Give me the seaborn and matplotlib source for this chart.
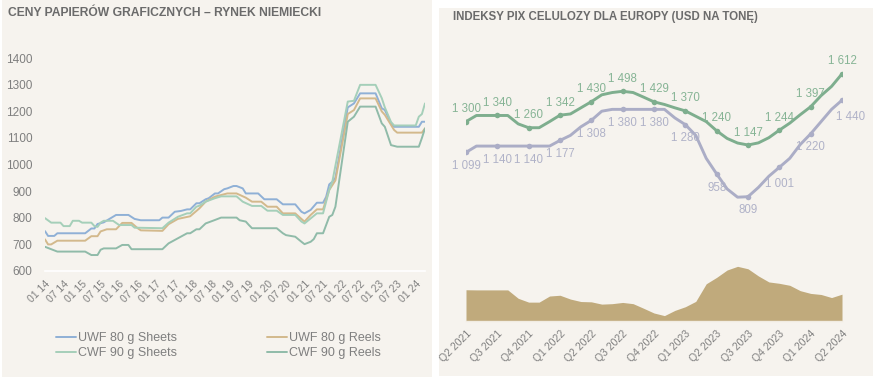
import matplotlib
matplotlib.use("Agg")
import matplotlib.pyplot as plt
import matplotlib.transforms as mtransforms
import seaborn as sns
import pandas as pd
import numpy as np

sns.set_theme(style="white")
plt.rcParams['font.family'] = ['Liberation Sans', 'DejaVu Sans']

# ---------------- LEFT PANEL DATA (month index from 01 2014) ----------------
left_title = "CENY PAPIERÓW GRAFICZNYCH – RYNEK NIEMIECKI"
left_start = "2014-01-01"
left_n_months = 124

uwf_sheets_m = [0, 1, 3, 4, 13, 15, 16, 17, 19, 23, 27, 29, 31, 37, 38, 40, 42, 44, 46, 47, 49, 50, 52, 53,
                55, 56, 58, 59, 61, 62, 64, 65, 69, 71, 75, 77, 81, 83, 84, 86, 88, 90, 91, 92, 93, 94, 98,
                100, 102, 107, 109, 110, 112, 113, 121, 122, 123]
uwf_sheets_v = [749, 731, 731, 741, 741, 759, 759, 776, 782, 810, 810, 795, 790, 790, 800, 800, 822, 825, 831,
                831, 854, 854, 869, 873, 891, 891, 907, 910, 919, 919, 910, 891, 891, 869, 869, 850, 850, 822,
                816, 829, 856, 856, 878, 925, 935, 950, 1215, 1230, 1268, 1268, 1212, 1205, 1155, 1142, 1142,
                1161, 1161]

uwf_reels_m = [0, 1, 2, 4, 13, 15, 17, 18, 20, 23, 25, 28, 30, 31, 38, 40, 43, 47, 50, 52, 55, 59, 62, 65,
               67, 70, 72, 75, 77, 81, 83, 84, 86, 88, 90, 92, 94, 98, 100, 102, 107, 109, 110, 113, 114,
               122, 123]
uwf_reels_v = [718, 699, 699, 713, 713, 730, 730, 748, 756, 756, 780, 780, 760, 752, 750, 775, 795, 805, 835,
               860, 879, 891, 891, 875, 860, 860, 841, 841, 816, 816, 795, 785, 810, 831, 831, 904, 940, 1190,
               1205, 1249, 1249, 1200, 1187, 1130, 1120, 1120, 1136]

cwf_sheets_m = [0, 2, 5, 6, 8, 9, 11, 12, 15, 16, 17, 18, 19, 22, 24, 28, 29, 38, 40, 43, 46, 47, 49, 50,
                52, 55, 57, 62, 64, 67, 70, 72, 75, 77, 81, 83, 84, 86, 88, 90, 92, 93, 98, 100, 102, 107,
                109, 110, 112, 113, 120, 121, 122, 123]
cwf_sheets_v = [798, 781, 781, 768, 768, 788, 788, 781, 781, 768, 765, 781, 788, 788, 772, 772, 762, 760, 781,
                803, 816, 816, 841, 845, 860, 873, 880, 880, 860, 844, 844, 826, 826, 810, 810, 785, 778, 797,
                816, 816, 904, 935, 1237, 1240, 1300, 1300, 1250, 1215, 1160, 1147, 1147, 1180, 1190, 1230]

cwf_reels_m = [0, 2, 4, 13, 15, 17, 18, 19, 23, 25, 27, 28, 38, 40, 43, 46, 47, 49, 50, 52, 55, 57, 62, 63,
               65, 66, 67, 75, 77, 78, 81, 83, 84, 86, 87, 88, 90, 92, 93, 94, 98, 100, 102, 107, 109, 110,
               112, 114, 121, 122, 123]
cwf_reels_v = [690, 681, 672, 672, 659, 659, 679, 684, 684, 697, 697, 681, 681, 703, 722, 741, 741, 756, 756,
               778, 791, 800, 800, 790, 785, 772, 760, 760, 741, 734, 728, 709, 700, 709, 719, 741, 741, 803,
               810, 841, 1161, 1180, 1218, 1218, 1155, 1142, 1073, 1067, 1067, 1100, 1136]

left_series = ["UWF 80 g Sheets", "UWF 80 g Reels", "CWF 90 g Sheets", "CWF 90 g Reels"]
left_colors = ["#8fb0d6", "#d3b98c", "#a5cfb9", "#90bba9"]

# ---------------- RIGHT PANEL DATA (monthly from Q2 2021) ----------------
right_title = "INDEKSY PIX CELULOZY DLA EUROPY (USD NA TONĘ)"
right_start = "2021-04-01"
pix_green = [1300, 1340, 1340, 1340, 1340, 1285, 1260, 1260, 1300, 1342, 1350, 1390, 1430, 1475, 1490, 1498,
             1490, 1460, 1429, 1412, 1390, 1370, 1335, 1300, 1240, 1190, 1160, 1147, 1161, 1195, 1244, 1290,
             1345, 1397, 1470, 1530, 1612]
pix_purple = [1099, 1140, 1140, 1140, 1140, 1140, 1140, 1140, 1140, 1177, 1210, 1266, 1308, 1368, 1380, 1380,
              1380, 1380, 1380, 1380, 1324, 1280, 1210, 1060, 958, 860, 806, 809, 870, 943, 1001, 1060, 1150,
              1220, 1300, 1380, 1440]

green_c = "#7eae8e"
purple_c = "#abadc6"
area_c = "#c0aa7c"
green_lbl_c = "#86b495"
purple_lbl_c = "#b0b2c8"

BG = "#f6f3ee"
TXT = "#7f7f7f"

W, H = 879, 379
fig = plt.figure(figsize=(W / 100, H / 100), dpi=100)
fig.patch.set_facecolor("white")

def fx(px):
    return px / W

def fy(py):
    return 1 - py / H

# panel backgrounds (as background axes)
for (x0, y0, x1, y1) in [(2, 0, 432, 377), (439, 8, 873, 376)]:
    bg = fig.add_axes([fx(x0), fy(y1), fx(x1) - fx(x0), fy(y0) - fy(y1)], zorder=-5)
    bg.set_facecolor(BG)
    bg.set_xticks([])
    bg.set_yticks([])
    for s in bg.spines.values():
        s.set_visible(False)

# ---------------- LEFT AXES ----------------
axL = fig.add_axes([fx(45), fy(270.7), fx(425) - fx(45), fy(58.3) - fy(270.7)], zorder=1)
axL.set_facecolor("none")
rows = []
for name, ms, vs in [(left_series[0], uwf_sheets_m, uwf_sheets_v),
                     (left_series[1], uwf_reels_m, uwf_reels_v),
                     (left_series[2], cwf_sheets_m, cwf_sheets_v),
                     (left_series[3], cwf_reels_m, cwf_reels_v)]:
    for m, v in zip(ms, vs):
        rows.append({"month": m, "value": v, "series": name})
dfL = pd.DataFrame(rows)
sns.lineplot(data=dfL, x="month", y="value", hue="series", hue_order=left_series,
             palette=dict(zip(left_series, left_colors)), linewidth=1.4, ax=axL, legend=False)
axL.set_xlim(0, left_n_months - 1)
axL.set_ylim(600, 1400)
axL.set_yticks(range(600, 1401, 100))
axL.set_yticklabels([str(v) for v in range(600, 1401, 100)], color=TXT, fontsize=8.5)
dates = pd.date_range(left_start, periods=left_n_months, freq="MS")
tick_idx = list(range(0, left_n_months, 6))
axL.set_xticks(tick_idx)
axL.set_xticklabels([dates[i].strftime("%m %y") for i in tick_idx], rotation=45, ha="right",
                    va="top", rotation_mode="anchor", color=TXT, fontsize=7.5)
shiftL = mtransforms.ScaledTranslation(-5 / 100, -6 / 100, fig.dpi_scale_trans)
for lab in axL.get_xticklabels():
    lab.set_transform(lab.get_transform() + shiftL)
axL.tick_params(axis="both", length=0)
axL.tick_params(axis="x", pad=6)
axL.tick_params(axis="y", pad=9)
axL.set_xlabel("")
axL.set_ylabel("")
for s in ["top", "right", "left"]:
    axL.spines[s].set_visible(False)
axL.spines["bottom"].set_color("#ffffff")
axL.spines["bottom"].set_linewidth(1.2)

handles = [plt.Line2D([], [], color=c, lw=1.4) for c in left_colors]
order = [0, 2, 1, 3]
fig.legend([handles[i] for i in order], [left_series[i] for i in order], ncol=2,
           loc="upper left", bbox_to_anchor=(fx(56), fy(332.5)), frameon=False,
           fontsize=9, handlelength=1.6, handletextpad=0.15, columnspacing=7.2,
           labelspacing=0.22, borderpad=0, borderaxespad=0, labelcolor=TXT)

fig.text(fx(8), fy(12.5), left_title, fontsize=8.75, fontweight="bold", color="#6b6b6b",
         ha="left", va="center")

# ---------------- RIGHT AXES ----------------
axR = fig.add_axes([fx(466), fy(320.5), fx(842) - fx(466), fy(60) - fy(320.5)], zorder=1)
axR.set_facecolor("none")
n = len(pix_green)
rdates = pd.date_range(right_start, periods=n, freq="MS")
dfR = pd.DataFrame({"month": np.arange(n), "green": pix_green, "purple": pix_purple})
dfR["spread"] = dfR["green"] - dfR["purple"]

axR.fill_between(dfR["month"], 0, dfR["spread"], color=area_c, linewidth=0, zorder=1)
sns.lineplot(data=dfR, x="month", y="green", color=green_c, linewidth=2.1, ax=axR, zorder=3)
sns.lineplot(data=dfR, x="month", y="purple", color=purple_c, linewidth=2.1, ax=axR, zorder=3)
q = dfR[dfR["month"] % 3 == 0]
sns.scatterplot(data=q, x="month", y="green", color=green_c, s=16, linewidth=0, ax=axR, zorder=4)
sns.scatterplot(data=q, x="month", y="purple", color=purple_c, s=16, linewidth=0, ax=axR, zorder=4)

def fmt(v):
    s = f"{v:,}".replace(",", " ")
    return s

for _, r in q.iterrows():
    axR.annotate(fmt(int(r["green"])), (r["month"], r["green"]), xytext=(0, 9),
                 textcoords="offset points", ha="center", va="center", fontsize=8.3,
                 color=green_lbl_c, zorder=5)
    dx = 6 if r["month"] == n - 1 else 0
    dy = -12 if int(r["purple"]) in (1001, 1440) else -9.8
    axR.annotate(fmt(int(r["purple"])), (r["month"], r["purple"]), xytext=(dx, dy),
                 textcoords="offset points", ha="center", va="center", fontsize=8.3,
                 color=purple_lbl_c, zorder=5)

axR.set_xlim(0, n - 1)
axR.set_ylim(0, (320.5 - 60) / 0.153)
axR.set_yticks([])
qt = list(range(0, n, 3))
axR.set_xticks(qt)
axR.set_xticklabels([f"Q{(rdates[i].month - 1) // 3 + 1} {rdates[i].year}" for i in qt], rotation=45,
                    ha="right", va="top", rotation_mode="anchor", color=TXT, fontsize=7.5)
axR.tick_params(axis="both", length=0)
axR.tick_params(axis="x", pad=6)
axR.set_xlabel("")
axR.set_ylabel("")
for s in ["top", "right", "left"]:
    axR.spines[s].set_visible(False)
axR.spines["bottom"].set_color("#f1ece2")
axR.spines["bottom"].set_linewidth(1.0)

fig.text(fx(453), fy(17), right_title, fontsize=8.3, fontweight="bold", color="#6b6b6b",
         ha="left", va="center")

fig.savefig("out.png", dpi=100, facecolor="white")
